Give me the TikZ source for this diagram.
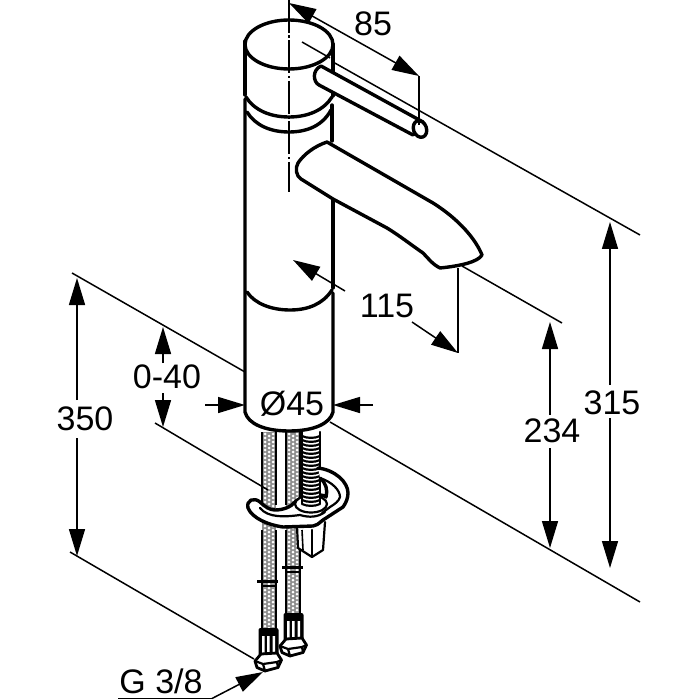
\documentclass[tikz,border=0pt]{standalone}
\usepackage{fontspec}
\setmainfont{Liberation Sans}
\usetikzlibrary{arrows.meta}
\tikzset{
 x=1pt,y=-1pt,
 thin line/.style={line width=1.5pt,black},
 outline/.style={line width=3.4pt,black,line cap=round,line join=round},
 mid line/.style={line width=2.2pt,black,line cap=round,line join=round},
 dim/.style={thin line,-{Triangle[length=27pt,width=16pt]}},
 dimlabel/.style={font=\fontsize{34}{34}\selectfont,inner sep=0pt,black},
}
\newcommand{\braid}[4]{% x1,x2,y1,y2
  \fill[black!45] (#1,#3) rectangle (#2,#4);
  \pgfmathsetmacro{\ystart}{#3+2}
  \pgfmathsetmacro{\ynext}{#3+6}
  \foreach \yy in {\ystart,\ynext,...,#4}{
    \pgfmathsetmacro{\xa}{#1+3}\pgfmathsetmacro{\xb}{#1+7}\pgfmathsetmacro{\xc}{#1+11}
    \fill[white] (\xa,\yy) circle (1.5pt) (\xb,\yy+2) circle (1.5pt) (\xc,\yy) circle (1.5pt);
  }
}
\begin{document}
\begin{tikzpicture}
\useasboundingbox (0,0) rectangle (700,700);
\fill[white] (0,0) rectangle (700,700);

% hoses and rod
\braid{262}{276}{432}{631}
\braid{286}{300}{432}{614}
\draw[mid line,line cap=butt] (262,530) -- (262,631) (276,530) -- (276,631)
  (286,530) -- (286,614) (300,530) -- (300,614);
\draw[line width=1.6pt] (262,432) -- (262,505) (276,432) -- (276,505) (286,432) -- (286,505) (300,432) -- (300,505);
\foreach \yy in {436,440,...,504}{
  \draw[line width=2.2pt] (302,\yy) .. controls (307,\yy+2.5) and (315,\yy+2.5) .. (320,\yy);
}
\draw[mid line] (302,432) -- (302,497) (320,432) -- (320,497);

% block under the clamp
\draw[mid line,fill=white] (297,526) -- (298,548) -- (312,557) -- (323,550) -- (325,522);
\draw[mid line] (312,530) -- (312,557);
\draw[line width=1.6pt] (302,530) -- (303,550);

% clamp
\draw[outline,fill=white] (318,468) .. controls (335,470) and (348,482) .. (348,493)
  .. controls (348,498) and (346,503) .. (343,507) -- (323,520) .. controls (318,524) and (316,526) .. (313,526)
  -- (283,527) .. controls (268,525) and (252,518) .. (248,508)
  .. controls (246,500) and (254,497) .. (260,502) .. controls (265,507) and (270,510) .. (275,510)
  .. controls (283,510) and (291,507) .. (295,502) .. controls (299,497) and (322,492) .. (326,497)
  .. controls (328,490) and (326,483) .. (320,478);
\draw[mid line] (320,478) .. controls (332,482) and (340,490) .. (340,497) .. controls (339,501) and (335,504) .. (330,507) -- (322,513);
\draw[mid line] (260,508) .. controls (268,518) and (285,517) .. (300,515) .. controls (310,518) and (318,517) .. (325,512);
% washer and rod end
\draw[mid line,fill=white] (311,504) ellipse [x radius=16,y radius=8.5];
\fill[white] (302,488) rectangle (320,505);
\foreach \yy in {488,492,...,504}{
  \draw[line width=2.2pt] (302,\yy) .. controls (307,\yy+2.5) and (315,\yy+2.5) .. (320,\yy);
}
\draw[mid line] (302,488) -- (302,504) (320,488) -- (320,504);

% collars and nuts
\draw[line width=3pt] (257,581) -- (278,581) (282,567) -- (303,567);
\draw[line width=2.2pt] (261,586) -- (277,586) (285,572) -- (301,572);
\foreach \dx/\dy in {0/0,25/-15}{
  \begin{scope}[shift={(\dx,\dy)}]
  % ribbed part
  \fill[black,rounded corners=2pt] (258.5,628) rectangle (278.5,656);
  \fill[white] (262,636) rectangle (264.5,653) (267,636) rectangle (269.5,655) (272.5,636) rectangle (275,653);
  % hexagon nut
  \draw[outline,line width=2.8pt,fill=white] (255,661) -- (261,654) -- (277,653) -- (281.5,660) -- (278,667.5) -- (265,671) -- (257,667.5) -- cycle;
  \draw[mid line] (255,661) -- (263,664) -- (277,662) -- (281.5,660) (263,664) -- (265,671) (277,662) -- (278,667.5);
  \end{scope}
}

% body
\fill[white] (245,44) rectangle (333,412);
\fill[white] (245,412) .. controls (248,424) and (265,431) .. (289,431) .. controls (313,431) and (330,424) .. (333,412) -- cycle;
\draw[outline] (245,41) -- (245,95);
\draw[outline] (245,99) -- (245,412) .. controls (248,424) and (265,431) .. (289,431)
  .. controls (313,431) and (330,424) .. (333,412) -- (333,293);
\draw[outline] (333,288) -- (333,200);
\draw[outline] (332,105) -- (332,141);
\draw[outline] (333,44) -- (333,96);
% top ellipse
\draw[outline] (289,44.5) ellipse [x radius=44,y radius=24.5];
% bands
\draw[outline] (246,97) .. controls (254,110) and (270,117) .. (289,117) .. controls (308,117) and (324,110) .. (332,97);
\draw[outline] (247,112) .. controls (255,125) and (270,132) .. (289,132) .. controls (308,132) and (323,125) .. (331,110);
\draw[outline] (247,292) .. controls (255,304) and (272,310) .. (290,310) .. controls (308,310) and (323,304) .. (332,290);

% centre line
\draw[line width=2pt,dash pattern=on 33pt off 2.5pt on 2.5pt off 2.5pt] (289,0) -- (289,192);

% handle
\draw[outline,fill=white] (321,66) -- (423,122) -- (413,135) -- (319,85) .. controls (313,82) and (312,70) .. (321,66) -- cycle;
\draw[outline,fill=white,rotate around={20:(420,129)}] (420,129) ellipse [x radius=6.5,y radius=8.5];

% spout
\draw[outline,fill=white] (327,142) -- (433,203) .. controls (460,220) and (476,240) .. (482,255)
  .. controls (478,262) and (460,266) .. (440,268) .. controls (432,264) and (428,258) .. (423,253)
  .. controls (410,244) and (400,236) .. (387,228) -- (333,199) -- (301,179)
  .. controls (296,176) and (295,168) .. (298,163) .. controls (304,154) and (315,146) .. (327,142) -- cycle;

% extension lines
\coordinate (ctop) at (302,42);
\coordinate (cmid) at (330,58);
\coordinate (hr) at (333,62);
\coordinate (fr) at (640,235);
\draw[thin line] (ctop) -- (cmid) (hr) -- (fr);
\draw[thin line] (419,76) -- (419,125);
\draw[thin line] (462,266) -- (562,323);
\draw[thin line] (458,268) -- (458,353);
\draw[thin line] (330,422) -- (640,602);
\draw[thin line] (72,273) -- (245,372);
\draw[thin line] (155,423) -- (268,490);
\draw[thin line] (70,552) -- (254,659);

% labels
\node[dimlabel] (l85) at (373,24) {85};
\node[dimlabel] (l115) at (387,306) {115};
\node[dimlabel] (l040) at (167,377) {0-40};
\node[dimlabel] (l45) at (292,404) {Ø45};
\node[dimlabel] (l350) at (85,419) {350};
\node[dimlabel] (l234) at (552,431) {234};
\node[dimlabel] (l315) at (612,403) {315};
\node[dimlabel] (lg) at (161,681) {G 3/8};

% dimensions
\coordinate (a85) at (289,3);\coordinate (b85) at (419,76);
\draw[dim,{Triangle[length=27pt,width=16pt]}-{Triangle[length=27pt,width=16pt]}] (a85) -- (b85);
\draw[dim] (345,291) -- (293,260);
\draw[dim] (412,322) -- (458,353);
\draw[dim] (77,400) -- (77,278);
\draw[dim] (77,438) -- (77,556);
\draw[dim] (550,415) -- (550,322);
\draw[dim] (550,448) -- (550,548);
\draw[dim] (610,385) -- (610,222);
\draw[dim] (610,418) -- (610,568);
\draw[dim] (163,363) -- (163,327);
\draw[dim] (163,393) -- (163,427);
\draw[dim] (205,405) -- (245,405);
\draw[dim] (373,405) -- (333,405);
\draw[thin line] (118,698.5) -- (212,698.5);
\draw[dim] (212,698.5) -- (263,672);
\end{tikzpicture}
\end{document}
